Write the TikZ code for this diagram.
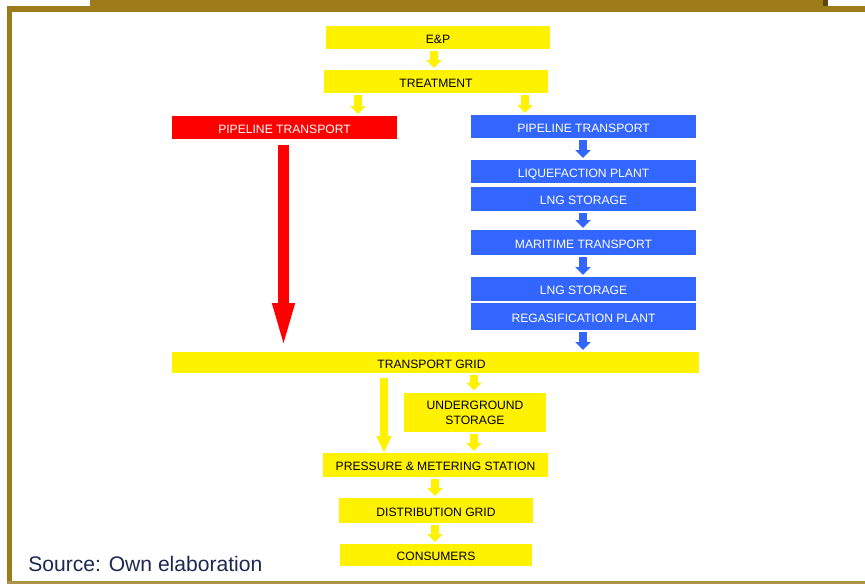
\documentclass[tikz,border=0pt]{standalone}
\usepackage{fontspec}
\setmainfont{Liberation Sans}
\usetikzlibrary{arrows.meta}
\definecolor{hgold}{RGB}{158,123,25}
\definecolor{hgold0}{RGB}{92,70,16}
\definecolor{hgold1}{RGB}{172,148,70}
\definecolor{hblue}{RGB}{51,102,255}
\definecolor{hnavy}{RGB}{28,40,80}
\tikzset{
  box/.style={inner sep=0pt, outer sep=0pt, minimum height=0.46cm, align=center,
    text height=6.4pt, text depth=0pt, font=\fontsize{6.9}{8.5}\selectfont},
  ybox/.style={box, fill=yellow, text=black},
  rbox/.style={box, fill=red, text=white},
  bbox/.style={box, fill=hblue, text=white},
  yarr/.style={yellow, line width=0.16cm, -{Triangle[width=0.3cm,length=0.16cm]},
    shorten <=0.04cm, shorten >=0.04cm},
  barr/.style={yarr, hblue},
  rarr/.style={red, line width=0.22cm, -{Triangle[width=0.38cm,length=1cm]},
    shorten <=0.12cm, shorten >=-0.02cm},
}

\begin{document}
\begin{tikzpicture}[x=0.02cm,y=-0.02cm]
\useasboundingbox (0,0) rectangle (865,584);
% frame
\fill[hgold] (90,0) rectangle (825,12);
\fill[hgold] (7,6) rectangle (865,12);
\fill[hgold] (7,6) rectangle (12,584);
\fill[hgold1] (7,581) rectangle (865,584);
\fill[hgold0] (823,0) rectangle (828,6);

% yellow chain
\node[ybox, minimum width=4.48cm] (ep) at (438,38) {E\&P};
\node[ybox, minimum width=4.48cm] (treat) at (436,81.5) {TREATMENT};
\node[rbox, minimum width=4.5cm] (pipeR) at (284.5,127.5) {PIPELINE TRANSPORT};
\node[bbox, minimum width=4.5cm] (pipeB) at (583.5,126.5) {PIPELINE TRANSPORT};
\node[bbox, minimum width=4.5cm] (liq) at (583.5,171.5) {LIQUEFACTION PLANT};
\node[bbox, minimum width=4.5cm, minimum height=0.48cm] (lng1) at (583.5,199) {LNG STORAGE};
\node[bbox, minimum width=4.5cm, minimum height=0.5cm] (mar) at (583.5,242.5) {MARITIME TRANSPORT};
\node[bbox, minimum width=4.5cm, minimum height=0.48cm] (lng2) at (583.5,289) {LNG STORAGE};
\node[bbox, minimum width=4.5cm, minimum height=0.54cm] (regas) at (583.5,316.5) {REGASIFICATION PLANT};
\node[ybox, minimum width=10.54cm, minimum height=0.42cm] (grid) at (435.5,362.5) {\hspace{-0.16cm}TRANSPORT GRID};
\node[ybox, minimum width=2.84cm, minimum height=0.8cm, text height=, text depth=] (under) at (475,412.5) {UNDERGROUND\\STORAGE};
\node[ybox, minimum width=4.5cm, minimum height=0.48cm] (press) at (435.5,465) {PRESSURE \& METERING STATION};
\node[ybox, minimum width=3.88cm, minimum height=0.5cm] (dist) at (436,510.5) {DISTRIBUTION GRID};
\node[ybox, minimum width=3.84cm, minimum height=0.44cm] (cons) at (436,555) {CONSUMERS};

\node[anchor=base west, inner sep=0pt, text=hnavy, font=\fontsize{12}{14}\selectfont]
  (src) at (28,571) {Source: Own elaboration};

% arrows
\draw[yarr] (ep.south -| 434,0) -- (treat.north -| 434,0);
\draw[yarr] (treat.south -| 358,0) -- (pipeR.north -| 358,0);
\draw[yarr] (treat.south -| 525,0) -- (pipeB.north -| 525,0);
\draw[rarr] (pipeR.south -| 283.5,0) -- (grid.north -| 283.5,0);
\draw[barr] (pipeB.south -| 583,0) -- (liq.north -| 583,0);
\draw[barr] (lng1.south -| 583,0) -- (mar.north -| 583,0);
\draw[barr] (mar.south -| 583,0) -- (lng2.north -| 583,0);
\draw[barr] (regas.south -| 583,0) -- (grid.north -| 583,0);
\draw[yarr, shorten <=0.1cm, shorten >=0cm, -{Triangle[width=0.28cm,length=0.34cm]}]
  (grid.south -| 384,0) -- (press.north -| 384,0);
\draw[yarr] (grid.south -| 474,0) -- (under.north -| 474,0);
\draw[yarr] (under.south -| 474,0) -- (press.north -| 474,0);
\draw[yarr] (press.south -| 435,0) -- (dist.north -| 435,0);
\draw[yarr] (dist.south -| 435,0) -- (cons.north -| 435,0);
\end{tikzpicture}
\end{document}
